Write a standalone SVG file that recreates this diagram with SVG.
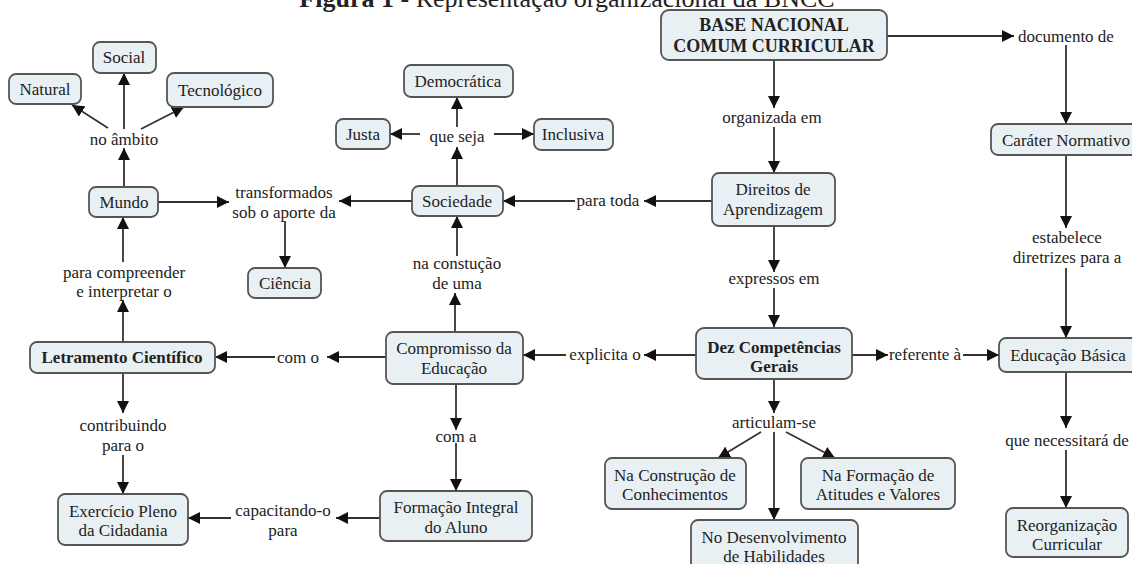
<svg xmlns="http://www.w3.org/2000/svg" width="1132" height="564" viewBox="0 0 1132 564">
<defs>
<marker id="ah" viewBox="0 0 12 12" refX="12" refY="6" markerWidth="12" markerHeight="12" markerUnits="userSpaceOnUse" orient="auto">
<path d="M0,0 L12,6 L0,12 Z" fill="#111"/>
</marker>
<style>
.n rect{fill:#e9f0f4;stroke:#555;stroke-width:1.8}
text{font-family:"Liberation Serif","Times New Roman",serif;font-size:17px;fill:#222;text-anchor:middle}
.b{font-weight:bold}
#edges line{stroke:#333;stroke-width:1.8;marker-end:url(#ah)}
</style>
</defs>
<rect x="0" y="0" width="1132" height="564" fill="#fff"/>
<text x="567" y="7" style="font-size:26px"><tspan class="b">Figura 1</tspan> - Representação organizacional da BNCC</text>

<g id="edges">
<line x1="887" y1="36" x2="1014" y2="36"/>
<line x1="1066" y1="45" x2="1066" y2="124"/>
<line x1="1066" y1="155" x2="1066" y2="228"/>
<line x1="1066" y1="268" x2="1066" y2="338"/>
<line x1="1066" y1="372" x2="1066" y2="428"/>
<line x1="1066" y1="450" x2="1066" y2="508"/>
<line x1="774" y1="60" x2="774" y2="108"/>
<line x1="774" y1="127" x2="774" y2="173"/>
<line x1="712" y1="201" x2="644" y2="201"/>
<line x1="575" y1="201" x2="503" y2="201"/>
<line x1="774" y1="226" x2="774" y2="272"/>
<line x1="774" y1="288" x2="774" y2="327"/>
<line x1="696" y1="355" x2="644" y2="355"/>
<line x1="566" y1="355" x2="523" y2="355"/>
<line x1="852" y1="355" x2="888" y2="355"/>
<line x1="963" y1="355" x2="999" y2="355"/>
<line x1="774" y1="379" x2="774" y2="413"/>
<line x1="761" y1="432" x2="718" y2="458"/>
<line x1="786" y1="432" x2="835" y2="458"/>
<line x1="774" y1="432" x2="774" y2="520"/>
<line x1="412" y1="201" x2="339" y2="201"/>
<line x1="158" y1="202" x2="229" y2="202"/>
<line x1="285" y1="221" x2="285" y2="268"/>
<line x1="457" y1="186" x2="457" y2="147"/>
<line x1="457" y1="127" x2="457" y2="97"/>
<line x1="420" y1="134" x2="390" y2="134"/>
<line x1="494" y1="134" x2="534" y2="134"/>
<line x1="457" y1="256" x2="457" y2="216"/>
<line x1="455" y1="332" x2="455" y2="293"/>
<line x1="386" y1="357" x2="327" y2="357"/>
<line x1="275" y1="357" x2="215" y2="357"/>
<line x1="123" y1="342" x2="123" y2="300"/>
<line x1="123" y1="262" x2="123" y2="217"/>
<line x1="124" y1="187" x2="124" y2="148"/>
<line x1="124" y1="129" x2="124" y2="73"/>
<line x1="108" y1="128" x2="72" y2="105"/>
<line x1="141" y1="129" x2="184" y2="107"/>
<line x1="123" y1="373" x2="123" y2="413"/>
<line x1="123" y1="455" x2="123" y2="494"/>
<line x1="456" y1="384" x2="456" y2="430"/>
<line x1="456" y1="443" x2="456" y2="491"/>
<line x1="380" y1="518" x2="336" y2="518"/>
<line x1="231" y1="518" x2="188" y2="518"/>
</g>

<g id="labels">
<text x="1066" y="42">documento de</text>
<text x="1067" y="243">estabelece</text>
<text x="1067" y="263">diretrizes para a</text>
<text x="1067" y="446">que necessitará de</text>
<text x="772" y="123">organizada em</text>
<text x="608" y="206">para toda</text>
<text x="774" y="284">expressos em</text>
<text x="605" y="360">explicita o</text>
<text x="925" y="360">referente à</text>
<text x="774" y="428">articulam-se</text>
<text x="124" y="145">no âmbito</text>
<text x="284" y="198">transformados</text>
<text x="284" y="218">sob o aporte da</text>
<text x="457" y="142">que seja</text>
<text x="457" y="269">na constução</text>
<text x="457" y="289">de uma</text>
<text x="124" y="278">para compreender</text>
<text x="124" y="297">e interpretar o</text>
<text x="298" y="363">com o</text>
<text x="123" y="431">contribuindo</text>
<text x="123" y="451">para o</text>
<text x="456" y="442">com a</text>
<text x="283" y="516">capacitando-o</text>
<text x="283" y="536">para</text>
</g>

<g id="bncc" class="n"><rect x="661" y="10" width="226" height="50" rx="8"/><text class="b" x="774" y="31" style="font-size:18px">BASE NACIONAL</text><text class="b" x="774" y="52" style="font-size:18px">COMUM CURRICULAR</text></g>
<g id="carater" class="n"><rect x="991" y="124" width="160" height="31" rx="7"/><text x="1066" y="146">Caráter Normativo</text></g>
<g id="educacao" class="n"><rect x="999" y="338" width="160" height="34" rx="7"/><text x="1068" y="361">Educação Básica</text></g>
<g id="reorg" class="n"><rect x="1006" y="508" width="122" height="49" rx="7"/><text x="1067" y="531">Reorganização</text><text x="1067" y="550">Curricular</text></g>
<g id="direitos" class="n"><rect x="712" y="173" width="123" height="53" rx="7"/><text x="773" y="195">Direitos de</text><text x="773" y="215">Aprendizagem</text></g>
<g id="dez" class="n"><rect x="696" y="328" width="156" height="51" rx="8"/><text class="b" x="774" y="353">Dez Competências</text><text class="b" x="774" y="372">Gerais</text></g>
<g id="construcao" class="n"><rect x="605" y="458" width="141" height="51" rx="7"/><text x="675" y="481">Na Construção de</text><text x="675" y="500">Conhecimentos</text></g>
<g id="formacaoAtitudes" class="n"><rect x="801" y="458" width="154" height="51" rx="7"/><text x="878" y="481">Na Formação de</text><text x="878" y="500">Atitudes e Valores</text></g>
<g id="desenvolvimento" class="n"><rect x="691" y="520" width="167" height="52" rx="7"/><text x="774" y="543">No Desenvolvimento</text><text x="774" y="562">de Habilidades</text></g>
<g id="natural" class="n"><rect x="9" y="74" width="72" height="30" rx="7"/><text x="45" y="95">Natural</text></g>
<g id="social" class="n"><rect x="93" y="42" width="63" height="31" rx="7"/><text x="124" y="63">Social</text></g>
<g id="tecnologico" class="n"><rect x="167" y="73" width="106" height="34" rx="7"/><text x="220" y="96">Tecnológico</text></g>
<g id="mundo" class="n"><rect x="89" y="187" width="69" height="30" rx="7"/><text x="124" y="208">Mundo</text></g>
<g id="ciencia" class="n"><rect x="248" y="268" width="73" height="30" rx="7"/><text x="285" y="289">Ciência</text></g>
<g id="sociedade" class="n"><rect x="412" y="186" width="91" height="30" rx="7"/><text x="457" y="207">Sociedade</text></g>
<g id="democratica" class="n"><rect x="404" y="65" width="109" height="32" rx="7"/><text x="458" y="87">Democrática</text></g>
<g id="justa" class="n"><rect x="336" y="119" width="54" height="30" rx="7"/><text x="363" y="140">Justa</text></g>
<g id="inclusiva" class="n"><rect x="534" y="119" width="79" height="31" rx="7"/><text x="573" y="140">Inclusiva</text></g>
<g id="letramento" class="n"><rect x="30" y="342" width="185" height="31" rx="7"/><text class="b" x="122" y="363">Letramento Científico</text></g>
<g id="compromisso" class="n"><rect x="386" y="332" width="137" height="52" rx="7"/><text x="454" y="354">Compromisso da</text><text x="454" y="374">Educação</text></g>
<g id="exercicio" class="n"><rect x="58" y="494" width="130" height="51" rx="7"/><text x="123" y="517">Exercício Pleno</text><text x="123" y="536">da Cidadania</text></g>
<g id="formacao" class="n"><rect x="380" y="491" width="152" height="50" rx="7"/><text x="456" y="513">Formação Integral</text><text x="456" y="533">do Aluno</text></g>
</svg>
